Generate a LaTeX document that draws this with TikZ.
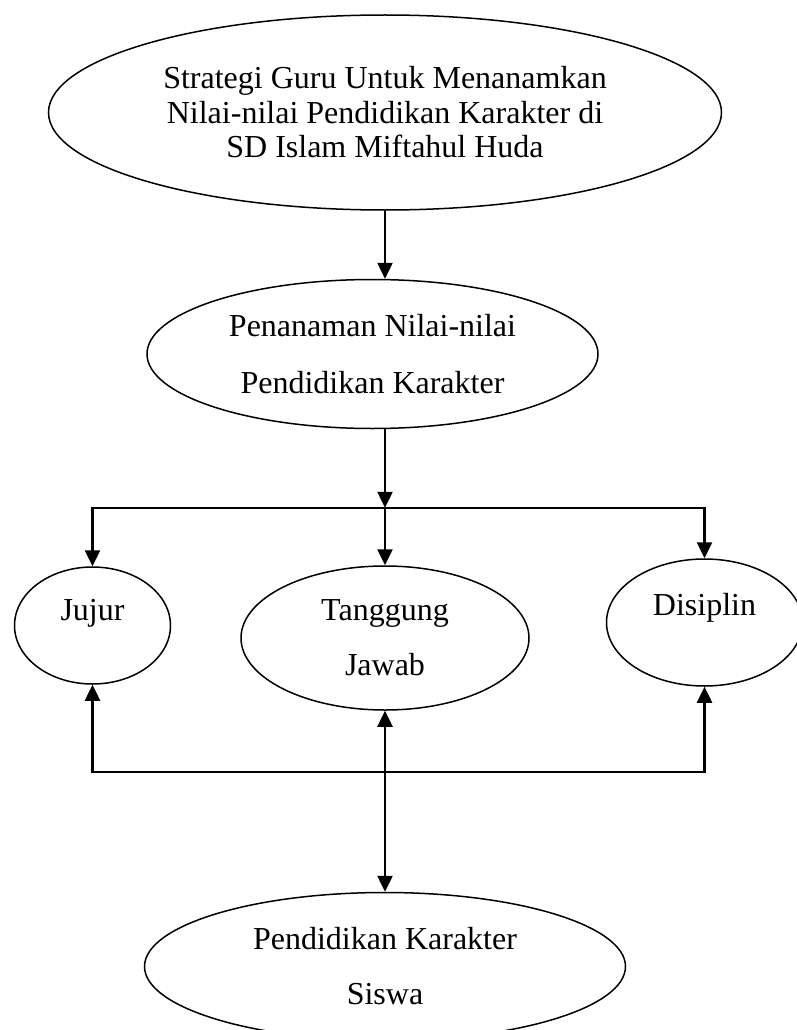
\documentclass[tikz,border=0pt]{standalone}
\usepackage{fontspec}
\setmainfont{Liberation Serif}
\usetikzlibrary{positioning,shapes.geometric,arrows.meta}

\begin{document}
\begin{tikzpicture} [
        x=1pt, y=-1pt,
        oval/.style={
            ellipse,
            draw,
            line width=1.5pt,
            inner sep=0pt,
            align=center,
            font=\fontsize{32}{34.5}\selectfont
        },
        link/.style={
            line width=2.5pt,
            -{Triangle[width=15pt,length=16pt]}
        }
    ]

        \useasboundingbox (0,0) rectangle (797,1030);

        \node[oval, minimum width=673pt, minimum height=195pt] (strategi) at (385,112.5)
            {Strategi Guru Untuk Menanamkan\\Nilai-nilai Pendidikan Karakter di\\SD Islam Miftahul Huda};
        \node[oval, minimum width=451pt, minimum height=149pt] (penanaman) [below=68pt of strategi, xshift=-12.5pt]
            {Penanaman Nilai-nilai\\[22.5pt]Pendidikan Karakter};

        \node[oval, minimum width=288pt, minimum height=144pt] (tanggung) [below=136pt of penanaman, xshift=12.5pt]
            {Tanggung\\[20.5pt]Jawab};
        \node[oval, minimum width=156pt, minimum height=117pt,
              label={[font=\fontsize{32}{34.5}\selectfont, yshift=12.5pt]center:Jujur}]
            (jujur) [left=69pt of tanggung, yshift=12.5pt] {};
        \node[oval, minimum width=196pt, minimum height=127pt,
              label={[font=\fontsize{32}{34.5}\selectfont, yshift=15pt]center:Disiplin}]
            (disiplin) [right=76pt of tanggung, yshift=15.5pt] {};

        \node[oval, minimum width=481pt, minimum height=148pt] (siswa) [below=181pt of tanggung]
            {Pendidikan Karakter\\[20.5pt]Siswa};

        % branching lines
        \coordinate (busL) at ([yshift=58.5pt]jujur.north);
        \coordinate (busM) at (tanggung.north |- busL);
        \coordinate (busR) at (disiplin.north |- busL);
        \coordinate (lowL) at ([yshift=-87pt]jujur.south);
        \coordinate (lowM) at (tanggung.south |- lowL);
        \coordinate (lowR) at (disiplin.south |- lowL);

        \draw[link] (strategi.south) -- (strategi.south |- penanaman.north);
        \draw[link] (penanaman.south -| busM) -- (busM);
        \draw[link] (busM) -- (busL) -- (jujur.north);
        \draw[link] (busM) -- (tanggung.north);
        \draw[link] (busM) -- (busR) -- (disiplin.north);

        \draw[link] (lowM) -- (lowL) -- (jujur.south);
        \draw[link] (lowM) -- (lowR) -- (disiplin.south);
        \draw[link, {Triangle[width=15pt,length=16pt]}-{Triangle[width=15pt,length=16pt]}] (tanggung.south) -- (siswa.north);

    \end{tikzpicture}
\end{document}
